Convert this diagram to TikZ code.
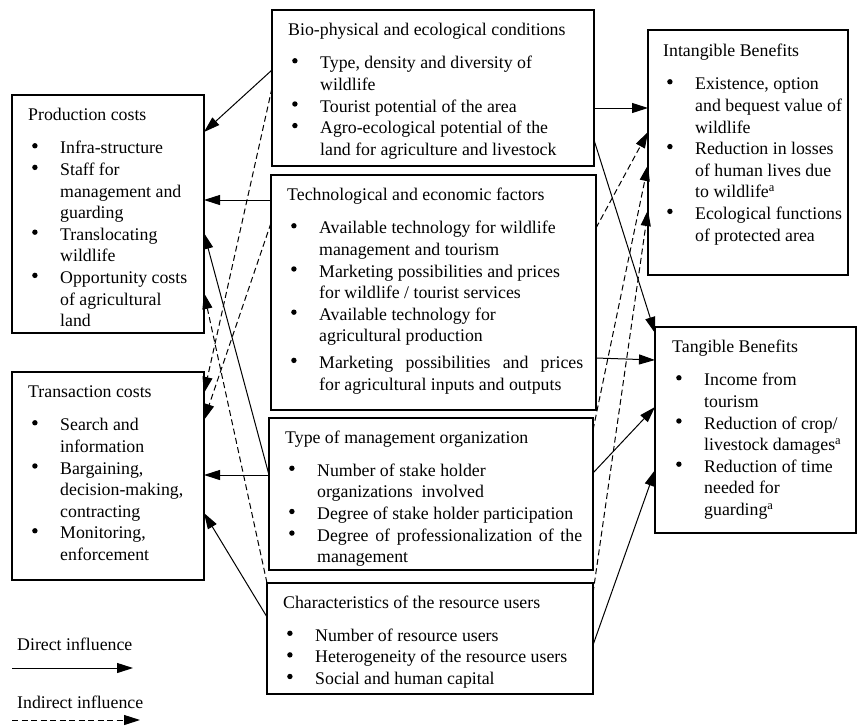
\documentclass[tikz,border=0pt]{standalone}
\usepackage{fontspec}
\setmainfont{Liberation Serif}
\usetikzlibrary{arrows.meta, calc}

\newcommand{\bdot}{\raisebox{0.3em}{\tikz\fill (0,0) circle (2.7pt);}}
\newcommand{\boxhead}[1]{\strut#1\par\vspace{11.4pt}}
\newcommand{\bitem}[1]{\par\noindent\hangindent=32pt\hangafter=1\makebox[32pt][l]{\hspace{4pt}\bdot}#1\par}
\newcommand{\boxtext}[2]{\parbox[t]{#1}{\raggedright\parskip=0pt\let\\\newline #2}}

\tikzset{
  box/.style={draw, line width=1.1pt, anchor=north west, inner sep=0pt, outer sep=0pt},
  txt/.style={anchor=north west, inner sep=0pt, font=\fontsize{17.8}{21.6}\selectfont},
  direct/.style={line width=1pt, -{Triangle[length=16pt,width=10pt]}},
  indirect/.style={direct, dash pattern=on 6pt off 3.5pt}
}

\begin{document}
\begin{tikzpicture}[x=1pt,y=-1pt]
        \useasboundingbox (0,0) rectangle (858,725);
        %costi
        \node[box, minimum width=192, minimum height=238] (pc) at (12,95) {};
        \node[txt] (pctxt) at ([shift={(16,10.5)}]pc.north west) {\boxtext{175pt}{%
          \boxhead{Production costs}
          \bitem{Infra-structure}
          \bitem{Staff for\\management and\\guarding}
          \bitem{Translocating\\wildlife}
          \bitem{Opportunity costs\\of agricultural\\land}}};
        \node[box, minimum width=192, minimum height=208] (tc) at (12,372) {};
        \node[txt] (tctxt) at ([shift={(16,10.5)}]tc.north west) {\boxtext{175pt}{%
          \boxhead{Transaction costs}
          \bitem{Search and\\information}
          \bitem{Bargaining,\\decision-making,\\contracting}
          \bitem{Monitoring,\\enforcement}}};
        %fattori
        \node[box, minimum width=322, minimum height=156] (bio) at (272,10) {};
        \node[txt] (biotxt) at ([shift={(16,10.5)}]bio.north west) {\boxtext{300pt}{%
          \boxhead{Bio-physical and ecological conditions}
          \bitem{Type, density and diversity of\\wildlife}
          \bitem{Tourist potential of the area}
          \bitem{Agro-ecological potential of the\\land for agriculture and livestock}}};
        \node[box, minimum width=325, minimum height=235] (tech) at (271,175) {};
        \node[txt] (techtxt) at ([shift={(16,10.5)}]tech.north west) {\boxtext{305pt}{%
          \boxhead{Technological and economic factors}
          \bitem{Available technology for wildlife\\management and tourism}
          \bitem{Marketing possibilities and prices\\for wildlife / tourist services}
          \bitem{Available technology for\\agricultural production}
          \vspace{5pt}
          \bitem{\makebox[264pt][l]{Marketing\hfill possibilities\hfill and\hfill prices}\\for agricultural inputs and outputs}}};
        \node[box, minimum width=324, minimum height=152] (mgmt) at (269,418) {};
        \node[txt] (mgmttxt) at ([shift={(16,10)}]mgmt.north west) {\boxtext{305pt}{%
          \boxhead{Type of management organization}
          \bitem{Number of stake holder\\organizations\ \ involved}
          \bitem{Degree of stake holder participation}
          \bitem{\makebox[265pt][l]{Degree\hfill of\hfill professionalization\hfill of\hfill the}\\management}}};
        \node[box, minimum width=326, minimum height=111] (users) at (267,583) {};
        \node[txt] (userstxt) at ([shift={(16,10)}]users.north west) {\boxtext{305pt}{%
          \boxhead{Characteristics of the resource users}
          \bitem{Number of resource users}
          \bitem{Heterogeneity of the resource users}
          \bitem{Social and human capital}}};
        %benefici
        \node[box, minimum width=200, minimum height=245] (intang) at (648,30) {};
        \node[txt] (intangtxt) at ([shift={(15,11.5)}]intang.north west) {\boxtext{182pt}{%
          \boxhead{Intangible Benefits}
          \bitem{Existence, option\\and bequest value of\\wildlife}
          \bitem{Reduction in losses\\of human lives due\\to wildlife\textsuperscript{a}}
          \bitem{Ecological functions\\of protected area}}};
        \node[box, minimum width=201, minimum height=206] (tang) at (655,327) {};
        \node[txt] (tangtxt) at ([shift={(17,10.5)}]tang.north west) {\boxtext{182pt}{%
          \boxhead{Tangible Benefits}
          \bitem{Income from\\tourism}
          \bitem{Reduction of crop/\\livestock damages\textsuperscript{a}}
          \bitem{Reduction of time\\needed for\\guarding\textsuperscript{a}}}};
        %frecce a sinistra
        \draw[direct] (bio.west |- 0,70) -- (pc.east |- 0,132);
        \draw[direct] (tech.west |- 0,200) -- (pc.east |- 0,200);
        \draw[direct] (mgmt.west |- 0,475) -- (pc.east |- 0,233);
        \draw[direct] (mgmt.west |- 0,475) -- (tc.east |- 0,475);
        \draw[direct] (users.west |- 0,617) -- (tc.east |- 0,513);
        \draw[indirect] (bio.west |- 0,88) -- (tc.east |- 0,393);
        \draw[indirect] (tech.west |- 0,223) -- (tc.east |- 0,420);
        \draw[indirect] (users.north west) -- (pc.east |- 0,293);
        %frecce a destra
        \foreach \src/\ya/\dst/\yb in {bio/108/intang/108, bio/140/tang/333, tech/358/tang/360,
                                       mgmt/473/tang/407, users/645/tang/470} {
        \draw[direct] (\src.east |- 0,\ya) -- (\dst.west |- 0,\yb);}
        \foreach \src/\ya/\yb in {tech/228/132, mgmt/430/165, users/593/210} {
        \draw[indirect] (\src.east |- 0,\ya) -- (intang.west |- 0,\yb);}
        %legenda
        \node[txt, anchor=base west] (ldir) at (17,650) {Direct influence};
        \coordinate (d1) at (12,668);
        \coordinate (d2) at (133,668);
        \draw[direct] (d1) -- (d2);
        \node[txt, anchor=base west] (lind) at (17,708) {Indirect influence};
        \coordinate (i1) at (12,720);
        \coordinate (i2) at (140,720);
        \draw[indirect] (i1) -- (i2);
    \end{tikzpicture}
\end{document}
